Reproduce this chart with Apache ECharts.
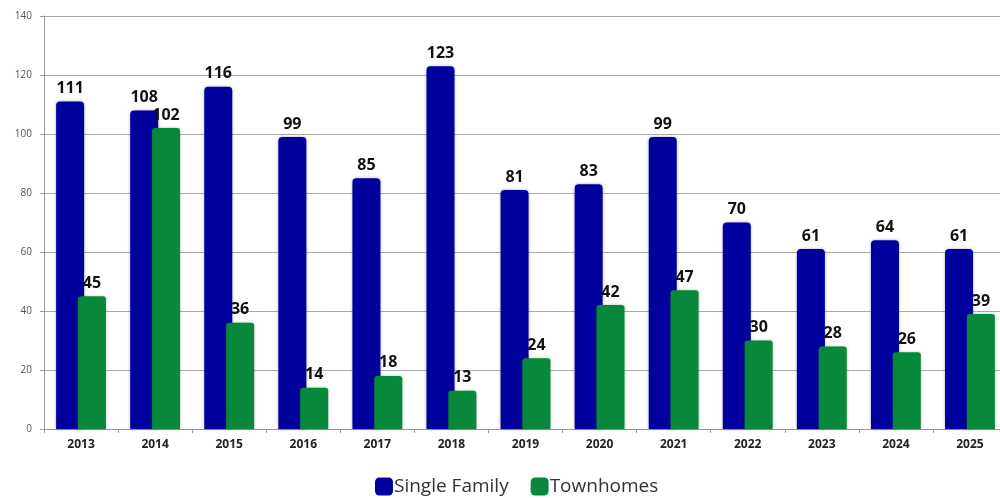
<!DOCTYPE html>
<html>
<head>
<meta charset="utf-8">
<script src="https://cdn.jsdelivr.net/npm/echarts@6/dist/echarts.min.js"></script>
<style>
html,body{margin:0;padding:0;background:#fff;overflow:hidden;width:1000px;height:498px;}
#chart{width:1010px;height:498px;}
</style>
</head>
<body>
<div id="chart"></div>
<script>
const categories = ['2013','2014','2015','2016','2017','2018','2019','2020','2021','2022','2023','2024','2025'];
const singleFamily = [111,108,116,99,85,123,81,83,99,70,61,64,61];
const townhomes = [45,102,36,14,18,13,24,42,47,30,28,26,39];
const yTicks = {min:0, max:140, interval:20};

const chart = echarts.init(document.getElementById('chart'));
const labelStyle = {show:true, position:'top', distance:5, color:'#111', fontFamily:'Open Sans', fontWeight:'bold', fontSize:16};
chart.setOption({
  animation:false,
  textStyle:{fontFamily:'Open Sans'},
  grid:{left:44, top:16, bottom:69, right:3, containLabel:false},
  legend:{
    top:472, left:370, itemWidth:18, itemHeight:18, itemGap:22,
    icon:'roundRect',
    textStyle:{fontFamily:'Open Sans', fontSize:19, color:'#333', padding:[0,0,0,-4]},
    data:['Single Family','Townhomes']
  },
  xAxis:{
    type:'category', data:categories,
    axisLine:{lineStyle:{color:'#999', width:1}},
    axisTick:{show:true, alignWithLabel:false, length:4, lineStyle:{color:'#999'}},
    axisLabel:{color:'#222', fontWeight:'bold', fontSize:12, fontFamily:'Open Sans', margin:10}
  },
  yAxis:{
    type:'value', min:yTicks.min, max:yTicks.max, interval:yTicks.interval,
    axisLine:{show:true, lineStyle:{color:'#999'}},
    axisTick:{show:true, length:4, lineStyle:{color:'#999'}},
    splitLine:{lineStyle:{color:'#aaa', width:1}},
    axisLabel:{color:'#555', fontSize:10, fontFamily:'Open Sans', margin:12}
  },
  series:[
    {name:'Single Family', type:'bar', data:singleFamily, barWidth:28, barGap:'-22%',
     itemStyle:{color:'#00009c', borderRadius:[4,4,0,0], shadowColor:'rgba(0,0,120,0.35)', shadowBlur:3},
     label:labelStyle},
    {name:'Townhomes', type:'bar', data:townhomes, barWidth:28,
     itemStyle:{color:'#07883a', borderRadius:[3,3,0,0], shadowColor:'rgba(0,80,30,0.35)', shadowBlur:3},
     label:labelStyle}
  ]
});
</script>
</body>
</html>
